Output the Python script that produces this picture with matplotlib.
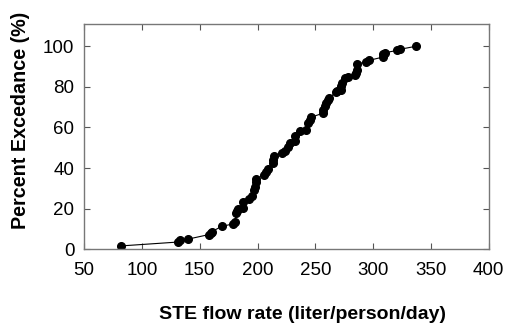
import matplotlib
matplotlib.use("Agg")
import matplotlib.pyplot as plt

flow = [82, 131, 133, 139.5, 158, 159.5, 160.5, 169, 179, 180.5, 181.5, 182, 183,
        187, 187.5, 193, 195, 197, 198, 198.5, 198.5, 206, 207.7, 209, 213.5, 213.5,
        214, 221, 223.5, 226.5, 228, 232, 232.5, 236.5, 242, 243.7, 245, 246, 256.6,
        257, 258, 259.5, 261, 262, 267.6, 269, 272.5, 272.5, 273, 276, 278, 284, 285,
        286, 286, 293.5, 296, 308.5, 308.5, 310, 321, 323, 337]
exceed = [1.6, 3.5, 4.3, 4.9, 7.2, 8.0, 8.7, 11.2, 12.5, 13.5, 17.8, 19.0, 19.8,
          20.5, 23.0, 24.8, 26.3, 29.3, 30.5, 32.9, 34.5, 36.7, 38.2, 39.5, 42.4, 43.8,
          45.7, 47.4, 48.2, 50.5, 52.3, 53.5, 55.6, 58.0, 58.9, 62.2, 63.5, 65.0, 67.0,
          68.5, 70.4, 72.0, 73.7, 74.5, 77.3, 77.8, 78.6, 80.5, 81.9, 84.4, 85.0, 86.0,
          87.0, 88.5, 91.4, 92.1, 93.0, 94.7, 96.4, 96.8, 98.0, 98.5, 100.0]

xticks = [50, 100, 150, 200, 250, 300, 350, 400]
yticks = [0, 20, 40, 60, 80, 100]

plt.rcParams['font.family'] = ['Liberation Sans', 'DejaVu Sans']
fig = plt.figure(figsize=(5.07, 3.24), dpi=100)
ax = fig.add_axes([0.166, 0.231, 0.798, 0.695])
ax.plot(flow, exceed, color='black', lw=0.8, marker='o', ms=5.5, mec='black', mfc='black')
ax.set_xlim(50, 400)
ax.set_ylim(0, 111)
ax.set_xticks(xticks)
ax.set_yticks(yticks)
ax.tick_params(direction='in', top=True, right=True, labelsize=13.5, length=4,
               width=0.8, color='#555555')
ax.tick_params(axis='x', pad=9)
ax.tick_params(axis='y', pad=7)
for s in ax.spines.values():
    s.set_color('#777777')
    s.set_linewidth(1.0)
ax.set_xlabel('STE flow rate (liter/person/day)', fontsize=14, fontweight='bold')
ax.xaxis.set_label_coords(0.54, -0.289)
ax.xaxis.label.set_verticalalignment('center')
ax.set_ylabel('Percent Excedance (%)', fontsize=14.2, fontweight='bold')
ax.yaxis.set_label_coords(-0.158, 0.573)
ax.yaxis.label.set_verticalalignment('center')
fig.savefig('out.png', dpi=100)
